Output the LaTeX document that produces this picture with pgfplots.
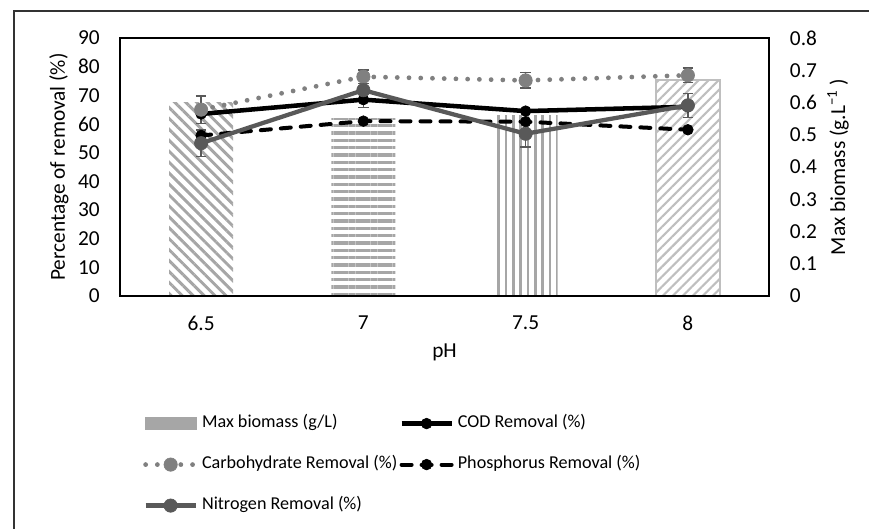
\documentclass[border=0pt]{standalone}
\usepackage{pgfplots}
\pgfplotsset{compat=1.18}
\usepackage{fontspec}
\setmainfont{Carlito}
\usetikzlibrary{patterns.meta}

\definecolor{barA}{HTML}{A6A6A6}
\definecolor{barD}{HTML}{BFBFBF}
\definecolor{carbc}{HTML}{808080}
\definecolor{nitroc}{HTML}{595959}

% pH levels plotted at 0..3 (6.5, 7, 7.5, 8)
\pgfplotstableread{
x y
0 63.5
1 68.5
2 64.5
3 66.0
}\cod
\pgfplotstableread{
x y e
0 65.0 4.8
1 76.5 2.3
2 75.2 2.7
3 77.0 2.5
}\carb
\pgfplotstableread{
x y
0 56.0
1 61.0
2 60.8
3 58.0
}\phos
\pgfplotstableread{
x y e
0 53.3 4.6
1 71.8 6.0
2 56.6 4.6
3 66.5 4.2
}\nitro

\pgfplotsset{
  base/.style={
    at={(90pt,174.75pt)}, anchor=south west,
    scale only axis, width=486.75pt, height=193.5pt,
    xmin=-0.5, xmax=3.5,
    major tick length=0pt,
    axis line style={line width=0.9pt, black},
    /pgf/number format/assume math mode=true,
  },
}

\begin{document}
\begin{tikzpicture}[font=\fontsize{16}{19}\selectfont]
\useasboundingbox (0,0) rectangle (651.75pt,396.75pt);
\draw[line width=0.9pt, black!80] (10.5pt,-5pt) -- (10.5pt,388.5pt) -- (660pt,388.5pt);

% right axis: maximum biomass bars
\begin{axis}[base,
  ymin=0, ymax=0.8,
  axis x line=none, axis y line*=right,
  ytick={0,0.1,0.2,0.3,0.4,0.5,0.6,0.7,0.8},
  yticklabels={0,0.1,0.2,0.3,0.4,0.5,0.6,0.7,0.8},
  yticklabel style={inner sep=0pt, anchor=west, xshift=15.5pt},
  ylabel={Max biomass (g.L\textsuperscript{\char"2212 1} )},
  ylabel style={at={(axis description cs:1.1063,0.5)}, anchor=center},
  ybar, bar width=48pt, bar shift=0pt,
]
\addplot[draw=none, pattern={Lines[angle=-45, distance=5.8pt, line width=2.2pt]}, pattern color=barA]
  coordinates {(0,0.60)};
\addplot[draw=none, pattern={Lines[angle=0, distance=5.5pt, line width=2.5pt]}, pattern color=barA]
  coordinates {(1,0.55)};
\addplot[draw=none, pattern={Lines[angle=90, distance=5.5pt, line width=2pt]}, pattern color=barA]
  coordinates {(2,0.56)};
\addplot[draw=barD, line width=1.1pt, pattern={Lines[angle=45, distance=5.3pt, line width=1.6pt]}, pattern color=barD]
  coordinates {(3,0.67)};
\end{axis}

% left axis: removal percentages
\begin{axis}[base,
  ymin=0, ymax=90, ytick={0,10,...,90},
  xtick={0,1,2,3}, xticklabels={6.5,7,7.5,8},
  yticklabel style={inner sep=0pt, anchor=east, xshift=-15pt},
  xticklabel style={inner sep=0pt, anchor=north, yshift=-15pt},
  xlabel={pH},
  xlabel style={at={(axis description cs:0.5,-0.217)}, anchor=center},
  ylabel={Percentage of removal (\%)},
  ylabel style={at={(axis description cs:-0.094,0.5)}, anchor=center},
  legend columns=2,
  legend style={draw=none, fill=none, inner sep=0pt,
    font=\fontsize{13.6}{16}\selectfont,
    at={(axis description cs:0.0354,-0.4612)}, anchor=north west,
    nodes={inner sep=0pt, text height=9.5pt, text depth=3pt},
    row sep=18.25pt,
    /tikz/every odd column/.append style={column sep=3pt},
    /tikz/every even column/.append style={column sep=1.5pt},
  },
  legend cell align=left,
  legend image code/.code={\draw[mark repeat=2, mark phase=2, #1]
    plot coordinates {(0pt,0pt) (18.75pt,0pt) (37.5pt,0pt)};},
]
\addlegendimage{legend image code/.code={\fill[barA] (0pt,-4.5pt) rectangle (38pt,4.5pt);}}
\addlegendentry{Max biomass (g/L)}

\addplot[black, line width=3.4pt, mark=*, mark size=4pt,
  mark options={solid, line width=0.5pt, fill=black}]
  table[x=x, y=y] {\cod};
\addlegendentry{COD Removal (\%)}

\addplot[carbc, line width=3.6pt, line cap=round, dash pattern=on 0pt off 8.8pt,
  mark=*, mark size=5pt, mark options={solid, line width=0.5pt, fill=carbc},
  error bars/.cd, y dir=both, y explicit,
  error bar style={solid, line width=1.1pt, nitroc},
  error mark options={rotate=90, mark size=4pt, line width=1.1pt, nitroc}]
  table[x=x, y=y, y error=e] {\carb};
\addlegendentry{Carbohydrate Removal (\%)}

\addplot[black, line width=3pt, line cap=round, dash pattern=on 7.5pt off 7.5pt,
  mark=*, mark size=4pt, mark options={solid, line width=0.5pt, fill=black}]
  table[x=x, y=y] {\phos};
\addlegendentry{Phosphorus Removal (\%)}

\addplot[nitroc, line width=3.2pt, mark=*, mark size=5pt,
  mark options={solid, line width=0.5pt, fill=nitroc},
  error bars/.cd, y dir=both, y explicit,
  error bar style={solid, line width=1.1pt, nitroc},
  error mark options={rotate=90, mark size=4pt, line width=1.1pt, nitroc}]
  table[x=x, y=y, y error=e] {\nitro};
\addlegendentry{Nitrogen Removal (\%)}
\end{axis}
\end{tikzpicture}
\end{document}
